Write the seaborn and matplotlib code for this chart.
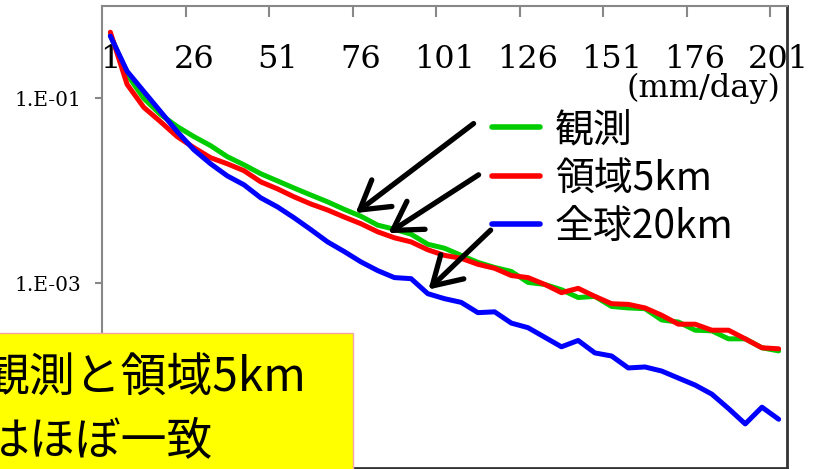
import numpy as np
import pandas as pd
import matplotlib
matplotlib.use("Agg")
import matplotlib.pyplot as plt
from matplotlib.patches import Rectangle
from matplotlib.ticker import FixedLocator, FuncFormatter, NullLocator
import seaborn as sns

# Rainfall intensity bins (mm/day) and their relative frequency
rain = list(range(1, 202, 5))

obs = [0.485, 0.182, 0.100, 0.0670, 0.0496, 0.0386, 0.0308, 0.0234, 0.0191, 0.0153,
       0.0128, 0.0107, 0.0090, 0.0076, 0.0063, 0.0053, 0.00425, 0.00384, 0.00339, 0.00264,
       0.00239, 0.00200, 0.00168, 0.00148, 0.00134, 0.00102, 0.00097, 0.00085, 0.00070, 0.00072,
       0.00056, 0.00054, 0.00053, 0.00040, 0.00038, 0.00031, 0.000305, 0.00025, 0.00025, 0.00020,
       0.000185]

regional_5km = [0.52, 0.142, 0.080, 0.056, 0.0386, 0.0293, 0.0228, 0.0196, 0.0165, 0.0125,
                0.0105, 0.0086, 0.0072, 0.0062, 0.0052, 0.0044, 0.0036, 0.0031, 0.0028, 0.0023,
                0.0020, 0.00186, 0.00160, 0.00145, 0.00121, 0.00115, 0.00097, 0.00079, 0.00088, 0.00072,
                0.00060, 0.00059, 0.00054, 0.00045, 0.00036, 0.00036, 0.00031, 0.00031, 0.00025, 0.00020,
                0.000195]

global_20km = [0.473, 0.197, 0.119, 0.0722, 0.0437, 0.0278, 0.0196, 0.0145, 0.0116, 0.0084,
               0.0067, 0.0051, 0.0038, 0.0028, 0.0022, 0.0017, 0.00137, 0.00115, 0.00112, 0.00077,
               0.00068, 0.00062, 0.00048, 0.00049, 0.00037, 0.00033, 0.00026, 0.000205, 0.00024, 0.000176,
               0.000163, 0.000121, 0.000124, 0.000112, 0.000094, 0.000079, 0.000063, 0.000044, 0.000030, 0.0000455,
               0.0000337]

series_names = ["観測", "領域5km", "全球20km"]
series_colors = ["#00CC00", "#FF0000", "#0000FF"]

x_tick_values = [1, 26, 51, 76, 101, 126, 151, 176, 201]
y_tick_values = [1e-1, 1e-3]

# Arrows from the legend towards each curve (data coordinates)
arrow_tails = [(109.7, 0.0534), (111.2, 0.01489), (114.8, 0.00375)]
arrow_tips = [(74.4, 0.00574), (84.2, 0.00348), (96.2, 0.000854)]

note_lines = ["観測と領域5km", "はほぼ一致"]

df = pd.DataFrame({
    "rain": rain * 3,
    "freq": obs + regional_5km + global_20km,
    "series": [series_names[0]] * len(rain) + [series_names[1]] * len(rain) + [series_names[2]] * len(rain),
})

sns.set_style("white")
plt.rcParams["font.family"] = ["Noto Sans CJK JP", "DejaVu Sans"]
plt.rcParams["text.color"] = "black"
plt.rcParams["axes.labelcolor"] = "black"
plt.rcParams["xtick.labelcolor"] = "black"
plt.rcParams["ytick.labelcolor"] = "black"

W, H = 822, 469
fig = plt.figure(figsize=(W / 100, H / 100), dpi=100)
ax = fig.add_axes([102 / W, 1 - 468 / H, 685 / W, 462 / H])

sns.lineplot(data=df, x="rain", y="freq", hue="series", hue_order=series_names,
             palette=series_colors, linewidth=3.6, ax=ax, legend=True)

ax.set_yscale("log")
ax.set_xlim(-1.5, 203.5)
ax.set_ylim(1e-5, 1)

# x axis: labels on top, tick marks between label groups
ax.xaxis.tick_top()
ax.set_xticks(x_tick_values)
ax.set_xticklabels([str(v) for v in x_tick_values])
ax.xaxis.set_minor_locator(FixedLocator([v - 2.5 for v in x_tick_values[1:]]))
ax.tick_params(axis="x", which="major", length=0, pad=-50, labelsize=23,
               labelfontfamily="DejaVu Serif", labelcolor="black", top=True, bottom=False,
               labeltop=True, labelbottom=False)
ax.tick_params(axis="x", which="minor", length=8, width=1.5, direction="in",
               color="#888888", top=True, bottom=False)
ax.set_xlabel("(mm/day)", fontsize=23, fontfamily="DejaVu Serif", color="black")
ax.xaxis.set_label_position("top")
ax.xaxis.set_label_coords(0.99, 0.822)
ax.xaxis.label.set_ha("right")
ax.xaxis.label.set_va("center")

# y axis: sparse log ticks in spreadsheet-like notation
ax.set_yticks(y_tick_values)
ax.yaxis.set_minor_locator(NullLocator())
ax.yaxis.set_major_formatter(FuncFormatter(lambda v, _: f"1.E{int(round(np.log10(v))):03d}"))
ax.tick_params(axis="y", which="major", length=5, width=1.5, direction="out",
               color="#888888", pad=10, labelsize=14.5, labelfontfamily="DejaVu Serif",
               labelcolor="black", left=True)
ax.set_ylabel("")

for side in ["left", "top"]:
    ax.spines[side].set_color("#888888")
    ax.spines[side].set_linewidth(1.5)
for side in ["right", "bottom"]:
    ax.spines[side].set_color("#333333")
    ax.spines[side].set_linewidth(2)

handles, labels = ax.get_legend_handles_labels()
for h in handles:
    h.set_linewidth(4)
leg = ax.legend(handles, labels, loc="upper left", bbox_to_anchor=(492 / W, 1 - 110 / H),
                bbox_transform=fig.transFigure, frameon=False, fontsize=28,
                handlelength=1.24, handletextpad=0.38, labelspacing=0.22,
                borderpad=0, borderaxespad=0)
for t in leg.get_texts():
    t.set_color("black")

for tail, tip in zip(arrow_tails, arrow_tips):
    ax.annotate("", xy=tip, xytext=tail,
                arrowprops=dict(arrowstyle="->,head_length=1.0,head_width=0.6",
                                lw=3.8, color="black", mutation_scale=20,
                                shrinkA=0, shrinkB=0, capstyle="round",
                                joinstyle="round"),
                annotation_clip=False)

# Highlighted note box at the lower left
fig.add_artist(Rectangle((-0.02, -0.05), 0.02 + 353 / W, 0.05 + 1 - 333 / H,
                         transform=fig.transFigure, facecolor="#FFFF00",
                         edgecolor="#F4A6A6", linewidth=1, zorder=5))
fig.text(-16 / W, 1 - 378 / H, note_lines[0], fontsize=33, color="black",
         ha="left", va="center", zorder=6)
fig.text(-16 / W, 1 - 441 / H, note_lines[1], fontsize=33, color="black",
         ha="left", va="center", zorder=6)

fig.savefig("out.png", dpi=100)
